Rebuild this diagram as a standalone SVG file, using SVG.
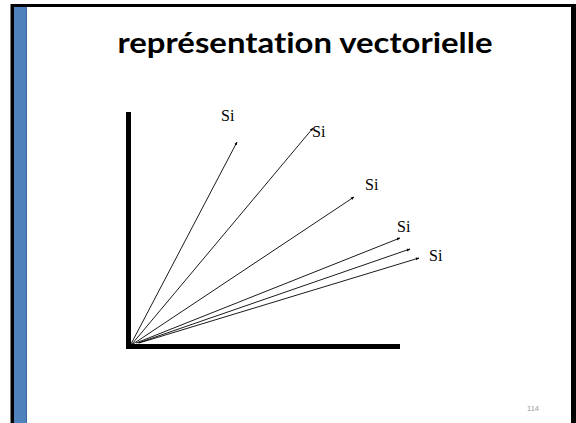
<svg xmlns="http://www.w3.org/2000/svg" width="576" height="423" viewBox="0 0 576 423">
<defs>
<style>
.vec{stroke:#000;stroke-width:0.9;fill:none;marker-end:url(#ah)}
.lbl{font-family:"Liberation Serif","Times New Roman",serif;font-size:16px;fill:#000}
.axis{stroke:#000;stroke-width:5;fill:none}
.title{font-family:Lato,"Liberation Sans",Arial,sans-serif;font-weight:bold;font-size:29px;font-variant-ligatures:none;font-feature-settings:"liga" 0}
</style>
<marker id="ah" viewBox="0 0 10 10" refX="9" refY="5" markerWidth="4" markerHeight="4" orient="auto" markerUnits="strokeWidth">
<path d="M0,1 L10,5 L0,9 z" fill="#000"/>
</marker>
</defs>
<rect x="0" y="0" width="576" height="423" fill="#fff"/>
<rect x="10.5" y="4" width="565.5" height="419" fill="#000"/>
<rect x="14" y="7" width="557" height="416" fill="#fff"/>
<rect x="14" y="7" width="13" height="416" fill="#4F81BD"/>
<rect x="26" y="7" width="1" height="416" fill="#3A6AA5"/>
<text class="title" x="305" y="53" text-anchor="middle" textLength="375" lengthAdjust="spacingAndGlyphs">représentation vectorielle</text>
<g id="axes">
<line class="axis" x1="128.5" y1="112" x2="128.5" y2="349"/>
<line class="axis" x1="126" y1="346.5" x2="400" y2="346.5"/>
</g>
<g id="connectors">
<line class="vec" x1="131" y1="344" x2="237" y2="142"/>
<line class="vec" x1="132" y1="344" x2="313" y2="128"/>
<line class="vec" x1="133" y1="344" x2="354" y2="197"/>
<line class="vec" x1="136" y1="343" x2="400" y2="238"/>
<line class="vec" x1="138" y1="343" x2="410" y2="249"/>
<line class="vec" x1="139" y1="343" x2="419" y2="258"/>
</g>
<g id="s1"><text class="lbl" x="221" y="121">Si</text></g>
<g id="s2"><text class="lbl" x="312" y="137">Si</text></g>
<g id="s3"><text class="lbl" x="365" y="190">Si</text></g>
<g id="s4"><text class="lbl" x="397" y="232">Si</text></g>
<g id="s5"><text class="lbl" x="429" y="261">Si</text></g>
<text x="533" y="411" font-family="'Liberation Sans',Arial,sans-serif" font-size="7.5" fill="#999" text-anchor="middle">114</text>
</svg>
